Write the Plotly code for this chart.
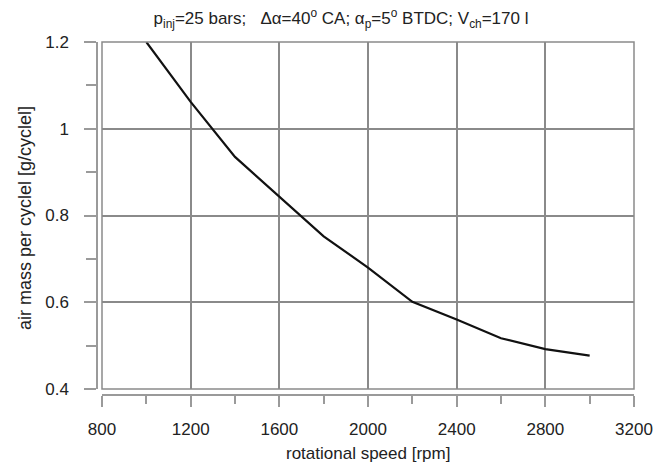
import plotly.graph_objects as go

speed_rpm = [1000, 1200, 1400, 1600, 1800, 2000, 2200, 2400, 2600, 2800, 3000]
air_mass = [1.200, 1.062, 0.935, 0.843, 0.752, 0.680, 0.601, 0.560, 0.517, 0.492, 0.477]

x_ticks = [800, 1200, 1600, 2000, 2400, 2800, 3200]
y_ticks = [0.4, 0.6, 0.8, 1.0, 1.2]
y_ticktext = ["0.4", "0.6", "0.8", "1", "1.2"]

title_text = ("p<sub>inj</sub>=25 bars;   Δα=40<sup>o</sup> CA; α<sub>p</sub>=5<sup>o</sup> BTDC; "
              "V<sub>ch</sub>=170 l")
x_title = "rotational speed [rpm]"
y_title = "air mass per cyclel [g/cyclel]"

W, H = 657, 469
ml, mr, mt, mb = 97, 23, 42, 74
pw, ph = W - ml - mr, H - mt - mb

font = dict(family="Liberation Sans, Arial, sans-serif", size=17, color="#222")
gridc = "#8a8a8a"
axc = "#9a9a9a"

fig = go.Figure()
fig.add_trace(go.Scatter(x=speed_rpm, y=air_mass, mode="lines",
                         line=dict(color="#111", width=2.2), showlegend=False,
                         hoverinfo="skip"))

fig.update_layout(
    width=W, height=H,
    margin=dict(l=ml, r=mr, t=mt, b=mb, autoexpand=False),
    paper_bgcolor="white", plot_bgcolor="white",
    font=font,
    title=dict(text=title_text, x=341 / W, xanchor="center", y=1 - 18 / H,
               yanchor="middle", yref="container", font=dict(size=17)),
    xaxis=dict(range=[800, 3200], domain=[5 / pw, 1], anchor="free", position=0,
               automargin=False,
               tickmode="array", tickvals=x_ticks, showgrid=True, gridcolor=gridc,
               gridwidth=1.5, zeroline=False, showline=True, linecolor=axc,
               linewidth=1.5, ticks="outside", ticklen=11, tickcolor=axc,
               tickwidth=1.5, ticklabelstandoff=8,
               minor=dict(ticks="outside", dtick=200, tick0=800, ticklen=8,
                          tickcolor=axc, tickwidth=1.5, showgrid=False)),
    yaxis=dict(range=[0.4, 1.2], domain=[6 / ph, 1], anchor="free", position=0,
               automargin=False,
               tickmode="array", tickvals=y_ticks, ticktext=y_ticktext,
               showgrid=True, gridcolor=gridc, gridwidth=1.5, zeroline=False,
               showline=True, linecolor=axc, linewidth=1.5, ticks="outside",
               ticklen=12, tickcolor=axc, tickwidth=1.5, ticklabelstandoff=12,
               minor=dict(ticks="outside", dtick=0.1, tick0=0.4, ticklen=10,
                          tickcolor=axc, tickwidth=1.5, showgrid=False)),
)

fig.add_shape(type="rect", xref="x domain", yref="y domain", x0=0, x1=1, y0=0, y1=1,
              line=dict(color=gridc, width=1.5), fillcolor="rgba(0,0,0,0)", layer="above")

fig.add_annotation(text=x_title, xref="paper", yref="paper",
                   x=(368 - ml) / pw, y=-(453 - (H - mb)) / ph,
                   xanchor="center", yanchor="middle", showarrow=False,
                   font=dict(size=17))
fig.add_annotation(text=y_title, xref="paper", yref="paper",
                   x=-(ml - 25) / pw, y=(H - mb - 218) / ph,
                   xanchor="center", yanchor="middle", textangle=-90, showarrow=False,
                   font=dict(size=18))

fig.write_html("out.html", config={"displayModeBar": False},
               post_script="document.body.style.margin='0';document.body.style.overflow='hidden';")
